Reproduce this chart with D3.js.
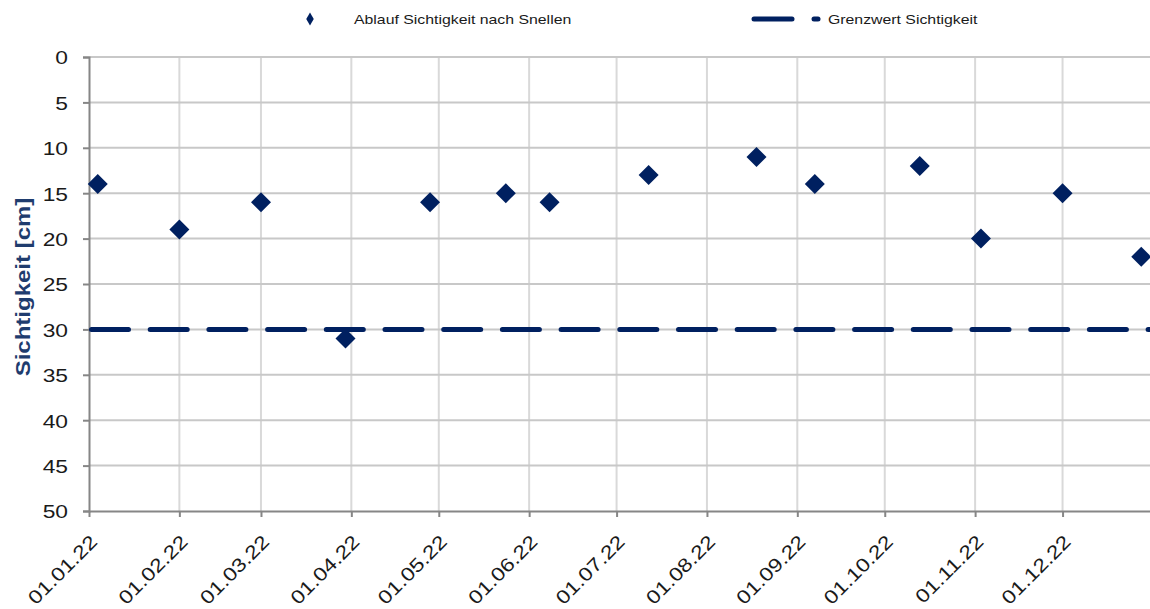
<!DOCTYPE html>
<html>
<head>
<meta charset="utf-8">
<script src="https://cdn.jsdelivr.net/npm/d3@7"></script>
<style>
  body { margin: 0; background: #fff; }
  svg { font-family: "Liberation Sans", Arial, sans-serif; }
</style>
</head>
<body>
<svg width="1150" height="609"></svg>
<script>
// measurement dates and values (cm)
const dates = ["2022-01-04", "2022-02-01", "2022-03-01", "2022-03-30", "2022-04-28",
  "2022-05-24", "2022-06-08", "2022-07-12", "2022-08-18", "2022-09-07",
  "2022-10-13", "2022-11-03", "2022-12-01", "2022-12-28"];
const values = [14, 19, 16, 31, 16, 15, 16, 13, 11, 14, 12, 20, 15, 22];
const limit = 30;
const yTicks = [0, 5, 10, 15, 20, 25, 30, 35, 40, 45, 50];
const xTickDates = ["2022-01-01", "2022-02-01", "2022-03-01", "2022-04-01", "2022-05-01",
  "2022-06-01", "2022-07-01", "2022-08-01", "2022-09-01", "2022-10-01",
  "2022-11-01", "2022-12-01"];
const seriesNames = ["Ablauf Sichtigkeit nach Snellen", "Grenzwert Sichtigkeit"];

const navy = "#002060";
const parse = d3.utcParse("%Y-%m-%d");
const fmt = d3.utcFormat("%d.%m.%y");

const svg = d3.select("svg");
const margin = {top: 57, right: 0, bottom: 98, left: 89};
const width = 1150 - margin.left - margin.right;
const height = 609 - margin.top - margin.bottom;

const x = d3.scaleUtc()
  .domain([parse("2022-01-01"), parse("2022-12-31")])
  .range([0, width]);
const y = d3.scaleLinear().domain([0, 50]).range([0, height]);

const g = svg.append("g").attr("transform", `translate(${margin.left},${margin.top})`);

// gridlines
g.selectAll(".vgrid")
  .data(xTickDates.slice(1))
  .enter().append("line")
  .attr("x1", d => x(parse(d))).attr("x2", d => x(parse(d)))
  .attr("y1", 0).attr("y2", height)
  .attr("stroke", "#d9d9d9").attr("stroke-width", 2);

g.selectAll(".hgrid")
  .data(yTicks.slice(0, -1))
  .enter().append("line")
  .attr("x1", 0).attr("x2", width)
  .attr("y1", d => y(d)).attr("y2", d => y(d))
  .attr("stroke", "#c8c8c8").attr("stroke-width", 2);

// y axis
const yAxis = g.append("g")
  .call(d3.axisLeft(y).tickValues(yTicks).tickSize(6));
yAxis.select(".domain").attr("stroke", "#868686").attr("stroke-width", 2);
yAxis.selectAll(".tick line").attr("stroke", "#868686").attr("stroke-width", 2);
yAxis.selectAll("text")
  .attr("font-size", 19).attr("fill", "#1a1a1a")
  .attr("font-family", "Liberation Sans, Arial, sans-serif")
  .attr("x", 0).attr("dy", "0.36em")
  .attr("transform", "translate(-21,0) scale(1.2,1)");

// x axis
const xAxis = g.append("g")
  .attr("transform", `translate(0,${height})`)
  .call(d3.axisBottom(x).tickValues(xTickDates.map(parse)).tickFormat(fmt).tickSize(6).tickSizeOuter(0));
xAxis.select(".domain").attr("stroke", "#868686").attr("stroke-width", 2);
xAxis.selectAll(".tick line").attr("stroke", "#868686").attr("stroke-width", 2);
xAxis.selectAll("text")
  .attr("font-size", 19).attr("fill", "#1a1a1a")
  .attr("font-family", "Liberation Sans, Arial, sans-serif")
  .attr("text-anchor", "end")
  .attr("x", 0).attr("y", 0).attr("dy", 0)
  .attr("transform", "translate(9,32) rotate(-45) scale(1.2,1)");

// limit line
g.append("line")
  .attr("x1", 0).attr("x2", width)
  .attr("y1", y(limit)).attr("y2", y(limit))
  .attr("stroke", navy).attr("stroke-width", 5)
  .attr("stroke-dasharray", "37,21.7")
  .attr("stroke-dashoffset", -2.5)
  .attr("stroke-linecap", "round");

// points
const diamond = d3.symbol().type(d3.symbolDiamond2).size(255);
g.selectAll(".pt")
  .data(values)
  .enter().append("path")
  .attr("d", diamond)
  .attr("transform", (d, i) => `translate(${x(parse(dates[i]))},${y(d)})`)
  .attr("fill", navy);

// y title
svg.append("text")
  .attr("transform", `translate(30,${margin.top + height / 2 + 3}) rotate(-90) scale(1.2,1)`)
  .attr("text-anchor", "middle")
  .attr("font-size", 20).attr("font-weight", "bold")
  .attr("fill", "#1f3c6e")
  .text("Sichtigkeit [cm]");

// legend
const leg = svg.append("g");
leg.append("path")
  .attr("d", d3.symbol().type(d3.symbolDiamond).size(49))
  .attr("transform", "translate(310,19)")
  .attr("fill", navy);
leg.append("text")
  .attr("transform", "translate(354,24) scale(1.2,1)")
  .attr("font-size", 13.2).attr("fill", "#1a1a1a").text(seriesNames[0]);
leg.append("line").attr("x1", 754).attr("x2", 792).attr("y1", 19).attr("y2", 19)
  .attr("stroke", navy).attr("stroke-width", 5).attr("stroke-linecap", "round");
leg.append("line").attr("x1", 814).attr("x2", 818).attr("y1", 19).attr("y2", 19)
  .attr("stroke", navy).attr("stroke-width", 5).attr("stroke-linecap", "round");
leg.append("text")
  .attr("transform", "translate(828,24) scale(1.2,1)")
  .attr("font-size", 13.2).attr("fill", "#1a1a1a").text(seriesNames[1]);
</script>
</body>
</html>
